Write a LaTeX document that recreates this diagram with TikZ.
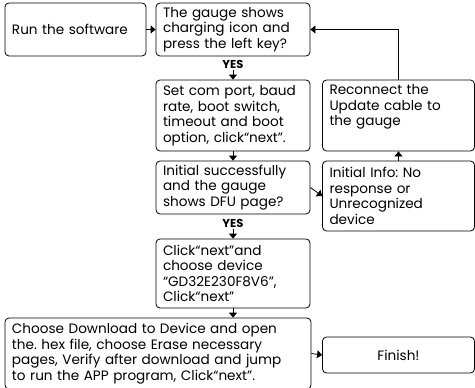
\documentclass[tikz,border=0pt]{standalone}
\usepackage{fontspec}
\setmainfont{Poppins}
\usepackage{tikz}
\usetikzlibrary{arrows.meta,positioning}
\tikzstyle{arrow} = [line width=0.8pt,-{Triangle[length=5pt,width=8pt]}]

\begin{document}
\frenchspacing
\begin{tikzpicture}[x=1pt,y=-1pt]
                \tikzstyle{stepbox}=[draw,line width=0.8pt,rounded corners=4pt,align=left,inner xsep=7pt,inner ysep=0pt,font=\fontsize{13.6}{15.5}\selectfont]
                \tikzstyle{yes}=[inner sep=1pt,font=\fontsize{11.5}{12}\selectfont\bfseries]
                \useasboundingbox (0,0) rectangle (475,388);

                \node [stepbox,text width=127,minimum height=53] (run) at (75.5,29.5)
                {Run the software};
                \node [stepbox,text width=140,minimum height=53] (gauge) at (233,29.5)
                {The gauge shows\\charging icon and\\press the left key?};
                \node [stepbox,text width=140,minimum height=71] (setup) at (233,115.5)
                {Set com port, baud\\rate, boot switch,\\timeout and boot\\option, click“next”.};
                \node [stepbox,text width=138,minimum height=71] (reconnect) at (398.5,115.5)
                {Reconnect the\\Update cable to\\the gauge\\\strut};
                \node [stepbox,text width=140,minimum height=53] (initial) at (233,187.5)
                {Initial successfully\\and the gauge\\shows DFU page?};
                \node [stepbox,text width=138,minimum height=70] (info) at (398.5,196)
                {Initial Info: No\\response or\\Unrecognized\\device};
                \node [stepbox,text width=140,minimum height=69] (click) at (233,273.5)
                {Click“next”and\\choose device\\“GD32E230F8V6”,\\Click“next”};
                \node [stepbox,text width=292,minimum height=71] (download) at (158,353.5)
                {Choose Download to Device and open\\the. hex file, choose Erase necessary\\pages, Verify after download and jump\\to run the APP program, Click“next”.};
                \node [stepbox,text width=138,minimum height=36,align=center] (finish) at (398.5,355)
                {Finish!};

                \node [yes,below=2.5pt of gauge] (yes1) {YES};
                \node [yes,below=3.5pt of initial] (yes2) {YES};

                \draw [arrow] (run.east) -- (gauge.west);
                \draw [arrow] (yes1.south) -- (setup.north);
                \draw [arrow] (setup.south) -- (initial.north);
                \draw [arrow] (initial.east) -- (info.west);
                \draw [arrow] (info.north) -- (reconnect.south);
                \draw [arrow] (reconnect.north) |- (gauge.east);
                \draw [arrow] (yes2.south) -- (click.north);
                \draw [arrow] (click.south) -- (click.south |- download.north);
                \draw [arrow] (download.east) -- (finish.west);
            \end{tikzpicture}
\end{document}
